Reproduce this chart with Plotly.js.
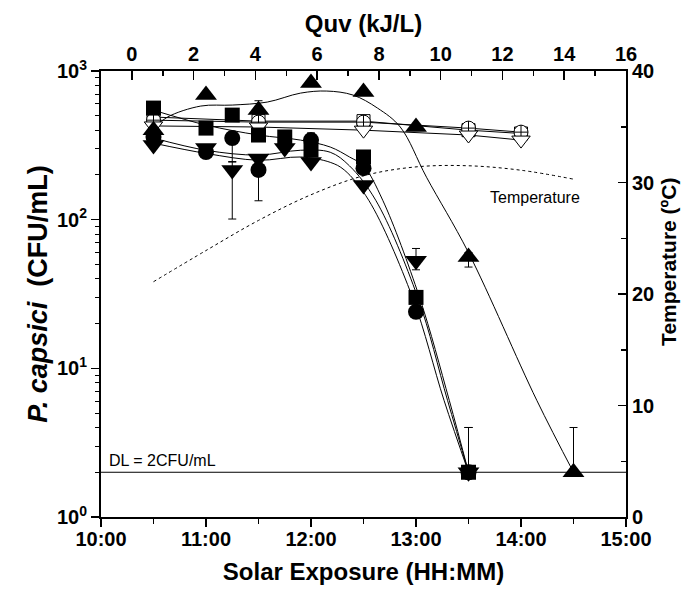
<!DOCTYPE html>
<html><head><meta charset="utf-8">
<script src="https://cdn.plot.ly/plotly-3.0.1.min.js"></script>
<style>html,body{margin:0;padding:0;background:#fff}#chart{width:691px;height:603px}</style>
</head><body><div id="chart"></div>
<script>
// ---------- data ----------
// filled symbols: measured P. capsici counts (CFU/mL)
const sqTimes   = ["10:30","11:00","11:15","11:30","11:45","12:00","12:30","13:00","13:30"];
const sqValues  = [563, 413, 505, 371, 360, 294, 264, 30, 2];
const sqErrPlus = [null,null,null,null,null,null,null,null,2];
const sqErrMinus= [null,null,null,null,null,null,null,null,0];

const ciTimes   = ["10:30","11:00","11:15","11:30","12:00","12:30","13:00","13:30"];
const ciValues  = [360, 285, 354, 216, 343, 222, 24, 2];
const ciErrPlus = [null,null,null,40,40,null,null,2];
const ciErrMinus= [null,null,110,82,null,null,null,0];

const tdTimes   = ["10:30","11:00","11:15","11:30","11:45","12:00","12:30","13:00","13:30"];
const tdValues  = [318, 303, 216, 258, 303, 244, 171, 53, 2];
const tdErrPlus = [null,null,30,null,null,null,null,11,2];
const tdErrMinus= [null,null,115,null,null,null,null,7,0];

const tuTimes   = ["10:30","11:00","11:30","12:00","12:30","13:00","13:30","14:30"];
const tuValues  = [400, 689, 546, 829, 721, 420, 56, 2];
const tuErrPlus = [null,null,85,null,null,null,4,2];
const tuErrMinus= [null,null,null,null,null,null,8,0];

// open symbols
const openTimes = ["10:30","11:30","12:30","13:30","14:00"];
const osqValues = [490, 460, 460, 400, 380];
const ociValues = [467, 453, 453, 413, 388];
const otdValues = [427, 420, 400, 371, 343];

// fitted curves
const fitSqTimes  = ["10:30","11:00","11:30","11:54","12:11","12:22","12:30","12:41","13:02","13:19","13:30"];
const fitSqValues = [545, 433, 371, 343, 308, 264, 230, 135, 30, 6.1, 2];
const fitCiTimes  = ["10:30","11:00","11:30","11:54","12:11","12:22","12:37","13:01","13:18","13:30"];
const fitCiValues = [354, 293, 272, 293, 284, 230, 135, 30, 6.1, 2];
const fitTdTimes  = ["10:30","11:00","11:30","11:54","12:11","12:19","12:33","12:58","13:16","13:30"];
const fitTdValues = [327, 279, 251, 264, 243, 216, 135, 30, 6.1, 2];
const fitTuTimes  = ["10:30","10:38","10:57","11:15","11:35","11:54","12:09","12:24","12:38","12:51","13:06","13:30","14:09","14:30"];
const fitTuValues = [413, 490, 581, 590, 618, 710, 733, 689, 563, 420, 193, 60, 6.1, 2];

// temperature (ºC), right axis
const tempTimes  = ["10:30","11:00","11:30","12:00","12:30","13:00","13:30","14:00","14:30"];
const tempValues = [21.1, 23.9, 26.6, 28.9, 30.6, 31.4, 31.5, 31.1, 30.3];

// detection limit
const DL = 2;

// axis ticks
const timeTickVals = [10, 11, 12, 13, 14, 15];
const timeTickText = ["10:00","11:00","12:00","13:00","14:00","15:00"];
const quvTickVals  = [0, 2, 4, 6, 8, 10, 12, 14, 16];
const logTickVals  = [1, 10, 100, 1000];
const logTickText  = ["10<sup>0</sup>","10<sup>1</sup>","10<sup>2</sup>","10<sup>3</sup>"];
const tempTickVals = [0, 10, 20, 30, 40];

// ---------- helpers ----------
function hrs(t){ const p = t.split(":"); return +p[0] + (+p[1])/60; }
function H(arr){ return arr.map(hrs); }

const FONT = "Liberation Sans, Arial, sans-serif";
const fitLine = {color:"black", width:1, shape:"spline", smoothing:1};

function errY(plus, minus){
  return {type:"data", symmetric:false, array:plus, arrayminus:minus,
          color:"black", thickness:1, width:4, visible:true};
}

const traces = [];
// empty trace so the top (Quv) axis is drawn
traces.push({x:[], y:[], xaxis:"x2", yaxis:"y", mode:"markers", hoverinfo:"skip"});
// temperature
traces.push({x:H(tempTimes), y:tempValues, xaxis:"x", yaxis:"y2", mode:"lines",
  line:{color:"black", width:1, dash:"3px,3px", shape:"spline"}, hoverinfo:"skip"});
// fits
[[fitSqTimes,fitSqValues],[fitCiTimes,fitCiValues],[fitTdTimes,fitTdValues],[fitTuTimes,fitTuValues]]
  .forEach(([t,v]) => traces.push({x:H(t), y:v, mode:"lines", line:fitLine, hoverinfo:"skip"}));
// open series
[[osqValues,"square",13],[ociValues,"circle-cross",14],[otdValues,"triangle-down",16]].forEach(([v,sym,sz]) =>
  traces.push({x:H(openTimes), y:v, mode:"lines+markers",
    line:{color:"black", width:1},
    marker:{symbol:sym, size:sz, color:"white", line:{color:"black", width:1}}}));
// filled series
traces.push({x:H(sqTimes), y:sqValues, mode:"markers", error_y:errY(sqErrPlus,sqErrMinus),
  marker:{symbol:"square", size:15, color:"black"}});
traces.push({x:H(ciTimes), y:ciValues, mode:"markers", error_y:errY(ciErrPlus,ciErrMinus),
  marker:{symbol:"circle", size:16, color:"black"}});
traces.push({x:H(tdTimes), y:tdValues, mode:"markers", error_y:errY(tdErrPlus,tdErrMinus),
  marker:{symbol:"triangle-down", size:19, color:"black"}});
traces.push({x:H(tuTimes), y:tuValues, mode:"markers", error_y:errY(tuErrPlus,tuErrMinus),
  marker:{symbol:"triangle-up", size:19, color:"black"}});

// log minor ticks
const logMinor = [];
for (let d = 1; d < 1000; d *= 10) for (let k = 2; k <= 9; k++) logMinor.push(d*k);

const tickFont = {family:FONT, size:20, color:"black", weight:"bold"};
const titleFont = {family:FONT, size:24, color:"black", weight:"bold"};

const layout = {
  width:691, height:603,
  margin:{l:101, r:65, t:71, b:86},
  paper_bgcolor:"white", plot_bgcolor:"white",
  showlegend:false,
  xaxis:{range:[10,15], tickvals:timeTickVals, ticktext:timeTickText,
    ticks:"outside", ticklen:8, tickwidth:1.5, tickcolor:"black", ticklabelstandoff:-5,
    minor:{dtick:0.5, ticks:"outside", ticklen:5, tickwidth:1.5, tickcolor:"black"},
    showline:true, linewidth:2, linecolor:"black", showgrid:false, zeroline:false,
    tickfont:tickFont,
    title:{text:"Solar Exposure (HH:MM)", font:titleFont, standoff:14}},
  xaxis2:{overlaying:"x", side:"top", anchor:"y", range:[-1,16], tickvals:quvTickVals,
    ticks:"inside", ticklen:9, tickwidth:1.5, tickcolor:"black",
    minor:{dtick:1, ticks:"inside", ticklen:5, tickwidth:1.5, tickcolor:"black"},
    showline:true, linewidth:2, linecolor:"black", showgrid:false, zeroline:false,
    tickfont:tickFont,
    title:{text:"Quv (kJ/L)", font:titleFont, standoff:4}},
  yaxis:{type:"log", range:[0,3], tickvals:logTickVals, ticktext:logTickText,
    ticks:"outside", ticklen:8, tickwidth:1.5, tickcolor:"black",
    minor:{tickvals:logMinor, ticks:"outside", ticklen:4, tickwidth:1, tickcolor:"black"},
    showline:true, linewidth:2, linecolor:"black", showgrid:false, zeroline:false,
    tickfont:tickFont,
    title:{text:"<i>P. capsici</i>  (CFU/mL)", font:{family:FONT, size:27, color:"black", weight:"bold"}, standoff:2}},
  yaxis2:{overlaying:"y", side:"right", anchor:"x", range:[0,40], tickvals:tempTickVals,
    ticks:"inside", ticklen:8, tickwidth:1.5, tickcolor:"black",
    minor:{dtick:5, ticks:"inside", ticklen:5, tickwidth:1.5, tickcolor:"black"},
    showline:true, linewidth:2, linecolor:"black", showgrid:false, zeroline:false,
    tickfont:tickFont},
  shapes:[{type:"line", xref:"paper", x0:0, x1:1, yref:"y", y0:DL, y1:DL,
    line:{color:"black", width:1}}],
  annotations:[
    {xref:"paper", x:0.012, yref:"y", y:Math.log10(DL), text:"DL = 2CFU/mL", showarrow:false,
     xanchor:"left", yanchor:"bottom", yshift:1, font:{family:FONT, size:16, color:"black"}},
    {xref:"x", x:hrs("14:08"), yref:"y2", y:28.7, text:"Temperature", showarrow:false,
     font:{family:FONT, size:16, color:"black"}},
    {xref:"paper", x:1, xshift:43, yref:"paper", y:0.572, text:"Temperature (ºC)", showarrow:false,
     textangle:-90, xanchor:"center", yanchor:"middle", font:{family:FONT, size:21, color:"black", weight:"bold"}}
  ]
};

Plotly.newPlot("chart", traces, layout, {displayModeBar:false, staticPlot:true});
</script></body></html>
